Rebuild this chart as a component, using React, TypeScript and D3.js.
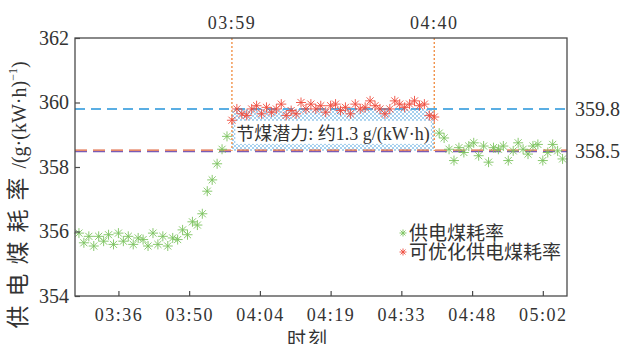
import React, { useEffect, useRef } from 'react';
import * as d3 from 'd3';

// time in minutes after midnight (03:28 = 208)
const xTickMinutes = [216, 230.33, 244.67, 259, 273.33, 287.67, 302];
const xTickLabels = ['03:36', '03:50', '04:04', '04:19', '04:33', '04:48', '05:02'];
const yTicks = [354, 356, 358, 360, 362];

const greenStartBefore = 208;
const greenBefore = [
    355.95, 355.65, 355.85, 355.55, 355.85, 355.7, 355.9, 355.6, 355.95, 355.7,
    355.85, 355.6, 355.8, 355.75, 355.55, 355.95, 355.6, 355.85, 355.55, 355.8,
    355.75, 356.05, 355.9, 356.3, 356.2, 356.55, 357.25, 357.6, 358.1, 358.55, 358.95,
];
const redStart = 239;
const redValues = [
    359.45, 359.8, 359.65, 359.6, 359.8, 359.9, 359.65, 359.85, 359.7, 359.8,
    359.95, 359.6, 359.75, 359.65, 360.0, 359.8, 359.95, 359.8, 359.9, 359.7,
    359.9, 359.95, 359.75, 359.85, 359.65, 359.95, 359.8, 359.85, 360.05, 359.9,
    359.8, 359.65, 359.8, 360.05, 359.95, 359.85, 359.95, 360.05, 359.9, 359.95,
    359.6, 359.55,
];
const greenStartAfter = 281;
const greenAfter = [
    359.05, 358.9, 358.55, 358.2, 358.6, 358.45, 358.65, 358.75, 358.35, 358.65,
    358.15, 358.6, 358.55, 358.65, 358.2, 358.5, 358.75, 358.55, 358.4, 358.65,
    358.7, 358.2, 358.45, 358.7, 358.5, 358.25,
];

const optimalLevel = 359.8;
const actualLevel = 358.5;
const markTimes = [239, 280];
const markLabels = ['03:59', '04:40'];
const legendNames = ['供电煤耗率', '可优化供电煤耗率'];

const GREEN = '#7cc35f';
const RED = '#ef4b3c';
const AXIS = '#4a4a4a';
const TEXT = '#333333';
const SERIF = '"Liberation Serif", "Times New Roman", serif';
const CJK = '"Noto Sans CJK SC", sans-serif';

const star = (r: number) => {
    let p = '';
    for (let k = 0; k < 4; k++) {
        const a = (k * Math.PI) / 4;
        const dx = r * Math.cos(a), dy = r * Math.sin(a);
        p += `M${-dx},${-dy}L${dx},${dy}`;
    }
    return p;
};

const App: React.FC = () => {
    const svgRef = useRef<SVGSVGElement>(null);

    useEffect(() => {
        if (!svgRef.current) return;
        const width = 623;
        const height = 344;
        const margin = { top: 38, right: 56, bottom: 48, left: 75 };
        const innerWidth = width - margin.left - margin.right;
        const innerHeight = height - margin.top - margin.bottom;

        const svg = d3.select(svgRef.current);
        svg.selectAll('*').remove();

        const defs = svg.append('defs');
        const pat = defs.append('pattern')
            .attr('id', 'hatch')
            .attr('patternUnits', 'userSpaceOnUse')
            .attr('width', 4)
            .attr('height', 4);
        pat.append('path')
            .attr('d', 'M0,0L4,4M4,0L0,4')
            .attr('stroke', '#8fc4ea')
            .attr('stroke-width', 0.8);

        const g = svg.append('g').attr('transform', `translate(${margin.left},${margin.top})`);

        const x = d3.scaleLinear().domain([207.2, 306.9]).range([0, innerWidth]);
        const y = d3.scaleLinear().domain([354, 362]).range([innerHeight, 0]);

        // hatched saving area
        g.append('rect')
            .attr('x', x(markTimes[0]))
            .attr('y', y(optimalLevel))
            .attr('width', x(markTimes[1]) - x(markTimes[0]))
            .attr('height', y(actualLevel) - y(optimalLevel))
            .attr('fill', 'url(#hatch)');

        // reference levels
        g.append('line')
            .attr('x1', 0).attr('x2', innerWidth)
            .attr('y1', y(optimalLevel)).attr('y2', y(optimalLevel))
            .attr('stroke', '#5aaee3')
            .attr('stroke-width', 2)
            .attr('stroke-dasharray', '10,6');
        g.append('line')
            .attr('x1', 0).attr('x2', innerWidth)
            .attr('y1', y(actualLevel) + 0.7).attr('y2', y(actualLevel) + 0.7)
            .attr('stroke', '#7a5bb5')
            .attr('stroke-width', 1.3)
            .attr('stroke-dasharray', '12,6');
        g.append('line')
            .attr('x1', 0).attr('x2', innerWidth)
            .attr('y1', y(actualLevel) - 0.7).attr('y2', y(actualLevel) - 0.7)
            .attr('stroke', '#e0623a')
            .attr('stroke-width', 1.3)
            .attr('stroke-dasharray', '12,6');

        // annotation
        const note = g.append('text')
            .attr('x', (x(markTimes[0]) + x(markTimes[1])) / 2)
            .attr('y', y(actualLevel) - 11)
            .attr('text-anchor', 'middle')
            .attr('fill', TEXT)
            .style('font-size', '18px');
        note.append('tspan').style('font-family', CJK).text('节煤潜力');
        note.append('tspan').style('font-family', SERIF).text(': ');
        note.append('tspan').style('font-family', CJK).text('约');
        note.append('tspan').style('font-family', SERIF).text('1.3 g/(kW·h)');
        const bb = (note.node() as SVGTextElement).getBBox();
        g.insert('rect', () => note.node())
            .attr('x', bb.x - 1)
            .attr('y', bb.y + 2)
            .attr('width', bb.width + 2)
            .attr('height', bb.height - 3)
            .attr('fill', '#ffffff');

        // vertical marks
        g.selectAll('.vmark')
            .data(markTimes)
            .enter()
            .append('line')
            .attr('x1', d => x(d)).attr('x2', d => x(d))
            .attr('y1', 0).attr('y2', y(actualLevel))
            .attr('stroke', '#f0893c')
            .attr('stroke-width', 1.3)
            .attr('stroke-dasharray', '2,2');

        // series
        const greenPts = [
            ...greenBefore.map((v, i) => ({ t: greenStartBefore + i, v })),
            ...greenAfter.map((v, i) => ({ t: greenStartAfter + i, v })),
        ];
        const redPts = redValues.map((v, i) => ({ t: redStart + i, v }));

        g.selectAll('.gpt')
            .data(greenPts)
            .enter()
            .append('path')
            .attr('transform', d => `translate(${x(d.t)},${y(d.v)})`)
            .attr('d', star(5))
            .attr('stroke', GREEN)
            .attr('stroke-width', 0.9)
            .attr('fill', 'none');

        g.selectAll('.rpt')
            .data(redPts)
            .enter()
            .append('path')
            .attr('transform', d => `translate(${x(d.t)},${y(d.v)})`)
            .attr('d', star(5))
            .attr('stroke', RED)
            .attr('stroke-width', 0.9)
            .attr('fill', 'none');

        // frame
        g.append('rect')
            .attr('width', innerWidth)
            .attr('height', innerHeight)
            .attr('fill', 'none')
            .attr('stroke', AXIS)
            .attr('stroke-width', 1.3);

        // x axis
        const xAxis = d3.axisBottom(x)
            .tickValues(xTickMinutes)
            .tickFormat((_, i) => xTickLabels[i])
            .tickSizeInner(-5)
            .tickSizeOuter(0)
            .tickPadding(12);
        const xg = g.append('g').attr('transform', `translate(0,${innerHeight})`).call(xAxis);
        xg.select('.domain').remove();
        xg.selectAll('line').attr('stroke', AXIS).attr('stroke-width', 1.2);
        xg.selectAll('text')
            .attr('fill', TEXT)
            .style('font-family', SERIF)
            .style('font-size', '18px')
            .style('letter-spacing', '1.5px');

        // y axis
        const yAxis = d3.axisLeft(y)
            .tickValues(yTicks)
            .tickSizeInner(-5)
            .tickSizeOuter(0)
            .tickPadding(6);
        const yg = g.append('g').call(yAxis);
        yg.select('.domain').remove();
        yg.selectAll('line').attr('stroke', AXIS).attr('stroke-width', 1.2);
        yg.selectAll('text')
            .attr('fill', TEXT)
            .style('font-family', SERIF)
            .style('font-size', '20px');

        // right labels
        const rightVals = [optimalLevel, actualLevel];
        g.selectAll('.rlab')
            .data(rightVals)
            .enter()
            .append('text')
            .attr('x', innerWidth + 8)
            .attr('y', d => y(d))
            .attr('dy', '0.35em')
            .attr('fill', TEXT)
            .style('font-family', SERIF)
            .style('font-size', '20px')
            .text(d => d.toFixed(1));

        // top labels
        g.selectAll('.tlab')
            .data(markTimes)
            .enter()
            .append('text')
            .attr('x', d => x(d))
            .attr('y', -9)
            .attr('text-anchor', 'middle')
            .attr('fill', TEXT)
            .style('font-family', SERIF)
            .style('font-size', '18px')
            .style('letter-spacing', '1.5px')
            .text((_, i) => markLabels[i]);

        // legend
        const leg = g.append('g').attr('transform', `translate(${403 - margin.left},${233 - margin.top})`);
        [GREEN, RED].forEach((c, i) => {
            leg.append('path')
                .attr('transform', `translate(0,${i * 19})`)
                .attr('d', star(3.5))
                .attr('stroke', c)
                .attr('stroke-width', 0.9)
                .attr('fill', 'none');
            leg.append('text')
                .attr('x', 6)
                .attr('y', i * 19)
                .attr('dy', '0.35em')
                .attr('fill', TEXT)
                .style('font-family', CJK)
                .style('font-size', '19px')
                .text(legendNames[i]);
        });

        // axis titles
        svg.append('text')
            .attr('x', 308)
            .attr('y', 346)
            .attr('text-anchor', 'middle')
            .attr('fill', TEXT)
            .style('font-family', CJK)
            .style('font-size', '19px')
            .style('letter-spacing', '2px')
            .text('时刻');

        const yt = svg.append('text')
            .attr('transform', 'translate(26,195) rotate(-90)')
            .attr('text-anchor', 'middle')
            .attr('fill', TEXT);
        yt.append('tspan').style('font-family', CJK).style('font-size', '23px').style('letter-spacing', '9px').text('供电煤耗率');
        yt.append('tspan').style('font-family', SERIF).style('font-size', '20px').text('/(g·(kW·h)');
        yt.append('tspan').style('font-family', SERIF).style('font-size', '12px').attr('dy', -9).text('−1');
        yt.append('tspan').style('font-family', SERIF).style('font-size', '20px').attr('dy', 9).text(')');
    }, []);

    return (
        <div style={{ position: 'absolute', left: 0, top: 0 }}>
            <svg ref={svgRef} width={623} height={344} style={{ display: 'block', background: '#ffffff' }} />
        </div>
    );
};

export default App;
